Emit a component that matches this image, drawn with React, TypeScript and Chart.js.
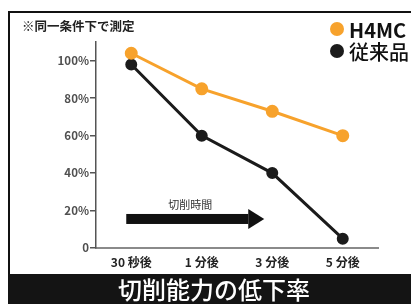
import React, { useEffect, useRef } from "react";
import { Chart, registerables } from "chart.js";

Chart.register(...registerables);

const categories = ["30 秒後", "1 分後", "3 分後", "5 分後"];
const h4mcValues = [104, 85, 73, 60];
const conventionalValues = [98, 60, 40, 5];
const seriesNames = ["H4MC", "従来品"];
const yTicks = [0, 20, 40, 60, 80, 100];
const noteText = "※同一条件下で測定";
const arrowText = "切削時間";
const bottomTitle = "切削能力の低下率";

const ORANGE = "#F7A22C";
const DARK = "#1b1b1b";
const FONT = "'Noto Sans CJK JP', 'Noto Sans', sans-serif";

const decorPlugin = {
  id: "decor",
  beforeDraw(chart: any) {
    const ctx = chart.ctx;
    const W = chart.width;
    const H = chart.height;
    ctx.save();
    ctx.fillStyle = "#ffffff";
    ctx.fillRect(0, 0, W, H);
    // frame lines
    ctx.fillStyle = "#111";
    ctx.fillRect(8, 11, W - 8, 2);
    ctx.fillRect(8, 11, 2, H - 11);
    // bottom band
    ctx.fillStyle = "#141414";
    ctx.fillRect(8, 274, W - 8, H - 274);
    ctx.fillStyle = "#ffffff";
    ctx.font = `500 24px ${FONT}`;
    ctx.textAlign = "center";
    ctx.textBaseline = "middle";
    ctx.fillText(bottomTitle, 214, 290);
    // note
    ctx.fillStyle = "#222";
    ctx.font = `bold 12.5px ${FONT}`;
    ctx.textAlign = "left";
    ctx.fillText(noteText, 22, 26);
    ctx.restore();
  },
  afterDraw(chart: any) {
    const ctx = chart.ctx;
    const xs = chart.scales.x;
    const ys = chart.scales.y;
    ctx.save();
    // legend
    const ds = chart.data.datasets;
    const legendY = [29, 51];
    ds.forEach((d: any, i: number) => {
      ctx.fillStyle = d.borderColor;
      ctx.beginPath();
      ctx.arc(337, legendY[i], 7, 0, Math.PI * 2);
      ctx.fill();
      ctx.fillStyle = "#111";
      ctx.font = i === 0 ? `bold 20px ${FONT}` : `500 20px ${FONT}`;
      ctx.textAlign = "left";
      ctx.textBaseline = "middle";
      ctx.fillText(d.label, 349, legendY[i] + 1);
    });
    // arrow
    const x0 = xs.getPixelForValue(0) - 5;
    const x1 = xs.getPixelForValue(2) - 8;
    const yc = ys.getPixelForValue(15.5);
    const headLen = 16;
    ctx.fillStyle = "#111";
    ctx.fillRect(x0, yc - 5, x1 - headLen - x0, 10);
    ctx.beginPath();
    ctx.moveTo(x1 - headLen, yc - 10);
    ctx.lineTo(x1, yc);
    ctx.lineTo(x1 - headLen, yc + 10);
    ctx.closePath();
    ctx.fill();
    ctx.fillStyle = "#333";
    ctx.font = `11px ${FONT}`;
    ctx.textAlign = "center";
    ctx.textBaseline = "middle";
    ctx.fillText(arrowText, (x0 + x1) / 2 - 5, ys.getPixelForValue(23));
    ctx.restore();
  },
};

export default function App() {
  const ref = useRef<HTMLCanvasElement>(null);
  useEffect(() => {
    document.body.style.margin = "0";
    const chart = new Chart(ref.current!, {
      type: "line",
      data: {
        labels: categories,
        datasets: [
          {
            label: seriesNames[0],
            data: h4mcValues,
            borderColor: ORANGE,
            backgroundColor: ORANGE,
            borderWidth: 3,
            pointRadius: 5,
            pointBackgroundColor: ORANGE,
            pointBorderColor: ORANGE,
            tension: 0,
          },
          {
            label: seriesNames[1],
            data: conventionalValues,
            borderColor: DARK,
            backgroundColor: DARK,
            borderWidth: 3,
            pointRadius: 4.5,
            pointBackgroundColor: DARK,
            pointBorderColor: DARK,
            tension: 0,
          },
        ],
      },
      options: {
        animation: false,
        responsive: false,
        devicePixelRatio: 1,
        layout: { padding: { left: 36, right: 33, top: 42, bottom: 28 } },
        plugins: { legend: { display: false }, tooltip: { enabled: false } },
        scales: {
          x: {
            type: "category",
            offset: true,
            grid: { display: false, drawTicks: false },
            border: { display: true, color: "#8a8a8a", width: 2 },
            ticks: {
              color: "#222",
              font: { family: FONT, size: 12, weight: "bold" },
              padding: 7,
              maxRotation: 0,
            },
            afterFit: (s: any) => {
              s.height = 28;
            },
          },
          y: {
            min: 0,
            max: 110,
            grid: {
              display: true,
              drawOnChartArea: false,
              drawTicks: true,
              tickLength: 6,
              color: "#555",
              lineWidth: 1.5,
            },
            border: { display: true, color: "#555", width: 1.5 },
            afterBuildTicks: (s: any) => {
              s.ticks = yTicks.map((v) => ({ value: v }));
            },
            ticks: {
              color: "#505050",
              font: { family: FONT, size: 11.5, weight: "bold" },
              padding: 1,
              callback: (v: any) => (v === 0 ? "0" : v + "%"),
            },
            afterFit: (s: any) => {
              s.width = 60;
            },
          },
        },
      },
      plugins: [decorPlugin],
    });
    return () => chart.destroy();
  }, []);
  return (
    <div style={{ width: 411, height: 304 }}>
      <canvas ref={ref} width={411} height={304} style={{ display: "block" }} />
    </div>
  );
}
